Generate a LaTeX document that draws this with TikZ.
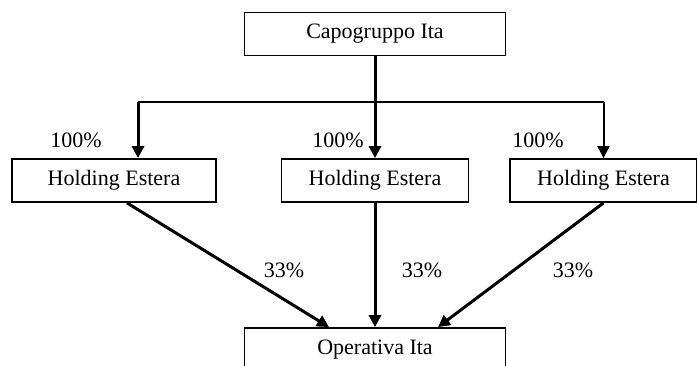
\documentclass[tikz,border=0pt]{standalone}
\usepackage{fontspec}
\setmainfont{Liberation Serif}
\usetikzlibrary{arrows.meta}
\tikzstyle{orgbox} = [draw=black, fill=white, line width=1.8pt,
    rectangle, minimum height=43pt, inner sep=0pt, font=\fontsize{22}{26}\selectfont]
\tikzstyle{pct} =[font=\fontsize{22}{26}\selectfont, inner sep=0pt]
\tikzstyle{arr} =[line width=3pt, -{Triangle[width=12pt,length=12pt]}]
\tikzstyle{thinarr} =[line width=2pt, -{Triangle[width=12pt,length=12pt]}]

\begin{document}
\begin{tikzpicture}[x=1pt,y=-1pt]
\useasboundingbox (0,0) rectangle (697,365);
\node [orgbox, minimum width=261pt] (capo) at (375,34) {Capogruppo Ita};
\node [orgbox, minimum width=204pt] (holdA) at (114,180.5) {Holding Estera};
\node [orgbox, minimum width=187pt] (holdB) at (375,180.5) {Holding Estera};
\node [orgbox, minimum width=187pt] (holdC) at (603.5,180.5) {Holding Estera};
\node [orgbox, minimum width=261pt, minimum height=44pt] (oper) at (375,350) {Operativa Ita};
\coordinate (barA) at (138,102);
\coordinate (barC) at (holdC.north |- barA);
\draw [line width=2pt] (barA) -- (barC);
\draw [arr] (capo) -- (holdB);
\draw [arr] (barA) -- (barA |- holdA.north);
\draw [thinarr] (barC) -- (holdC.north);
\draw [arr] ([xshift=13pt]holdA.south) -- ([xshift=-46pt]oper.north);
\draw [arr] (holdB) -- (oper);
\draw [arr] (holdC.south) -- ([xshift=63pt]oper.north);
\node [pct] (pA) at (76,140) {100\%};
\node [pct] (pB) at (338,140) {100\%};
\node [pct] (pC) at (538,140) {100\%};
\node [pct] (qA) at (284,270) {33\%};
\node [pct] (qB) at (422,270) {33\%};
\node [pct] (qC) at (573,270) {33\%};
\end{tikzpicture}
\end{document}
